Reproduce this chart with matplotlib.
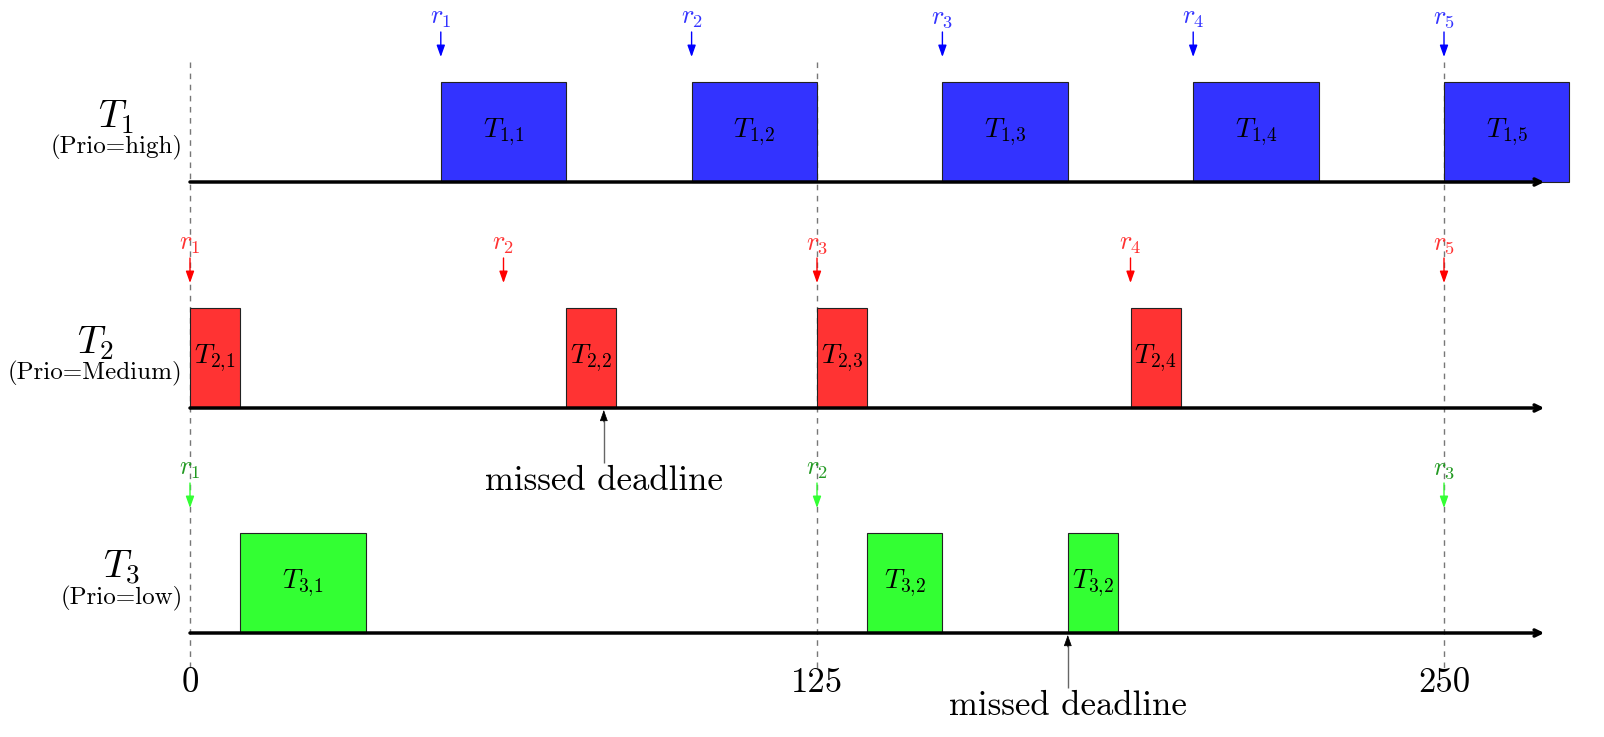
import matplotlib
matplotlib.use('Agg')
import matplotlib.pyplot as plt
from matplotlib.patches import Rectangle

plt.rcParams['mathtext.fontset'] = 'cm'
plt.rcParams['font.family'] = 'cmr10'
plt.rcParams['axes.formatter.use_mathtext'] = True

# ── schedule data (time units) ────────────────────────────────────────────────
t1_start = [50, 100, 150, 200, 250]
t1_dur = [25, 25, 25, 25, 25]
t1_names = ['1{,}1', '1{,}2', '1{,}3', '1{,}4', '1{,}5']
t1_release = [50, 100, 150, 200, 250]

t2_start = [0, 75, 125, 187.5]
t2_dur = [10, 10, 10, 10]
t2_names = ['2{,}1', '2{,}2', '2{,}3', '2{,}4']
t2_release = [0, 62.5, 125, 187.5, 250]

t3_start = [10, 135, 175]
t3_dur = [25, 15, 10]
t3_names = ['3{,}1', '3{,}2', '3{,}2']
t3_release = [0, 125, 250]

row_names = ['T_1', 'T_2', 'T_3']
row_prio = ['(Prio=high)', '(Prio=Medium)', '(Prio=low)']
missed_row = [1, 2]
missed_time = [82.5, 175]
ticks = [0, 125, 250]
t_end = 270

rows = [
    (t1_start, t1_dur, t1_names, t1_release),
    (t2_start, t2_dur, t2_names, t2_release),
    (t3_start, t3_dur, t3_names, t3_release),
]

# ── styling ───────────────────────────────────────────────────────────────────
PX = 5.016          # pixels per time unit
BASE = [182, 408, 633]
BOX_H = 100
FILL = ['#3333FF', '#FF3333', '#33FF33']
ARROW_C = ['#0000FF', '#FF0000', '#33FF33']
LABEL_C = ['#3333FF', '#FF3333', '#229922']

fig = plt.figure(figsize=(16.04, 7.37), dpi=100)
ax = fig.add_axes([0, 0, 1, 1])
ax.set_xlim(-190 / PX, (1604 - 190) / PX)
ax.set_ylim(737, 0)
ax.axis('off')

# dashed guide lines at ticks
ax.vlines(ticks, 62, 668, colors='#777777', linestyles=(0, (4, 4)), lw=1, zorder=0)
for t in ticks:
    ax.text(t, 683, str(t), ha='center', va='center', fontsize=25)

for i, (starts, durs, names, rel) in enumerate(rows):
    b = BASE[i]
    for s, d, n in zip(starts, durs, names):
        ax.add_patch(Rectangle((s, b - BOX_H), d, BOX_H, facecolor=FILL[i],
                               edgecolor='#222222', lw=0.8, zorder=2))
        ax.text(s + d / 2, b - BOX_H / 2, r'$T_{%s}$' % n, ha='center',
                va='center', fontsize=20, zorder=3)
    for k, r in enumerate(rel):
        ax.text(r, b - 164, r'$r_{%d}$' % (k + 1), ha='center', va='center',
                fontsize=19, color=LABEL_C[i], zorder=3)
        ax.annotate('', xy=(r, b - 125), xytext=(r, b - 150),
                    arrowprops=dict(arrowstyle='-|>,head_length=0.7,head_width=0.25',
                                    color=ARROW_C[i], lw=1, shrinkA=0, shrinkB=0),
                    zorder=3)
    # time axis
    ax.annotate('', xy=(t_end, b), xytext=(0, b),
                arrowprops=dict(arrowstyle='->,head_length=0.45,head_width=0.22',
                                color='black', lw=2.5, shrinkA=0, shrinkB=0),
                zorder=4)
    # row label
    sub = ax.text(-1.5, b - 35, row_prio[i], ha='right', va='center', fontsize=18)
    ax.annotate(r'$%s$' % row_names[i], xy=(0.5, 1.0), xycoords=sub,
                xytext=(0, -1), textcoords='offset points',
                ha='center', va='bottom', fontsize=28)

for r, t in zip(missed_row, missed_time):
    b = BASE[r]
    ax.vlines(t, b + 8, b + 55, colors='#666666', lw=1, zorder=3)
    ax.annotate('', xy=(t, b + 2), xytext=(t, b + 14),
                arrowprops=dict(arrowstyle='-|>,head_length=0.7,head_width=0.25',
                                color='black', lw=0.5, shrinkA=0, shrinkB=0),
                zorder=5)
    ax.text(t, b + 73, 'missed deadline', ha='center', va='center', fontsize=25)

fig.savefig('out.png', dpi=100, facecolor='white')
